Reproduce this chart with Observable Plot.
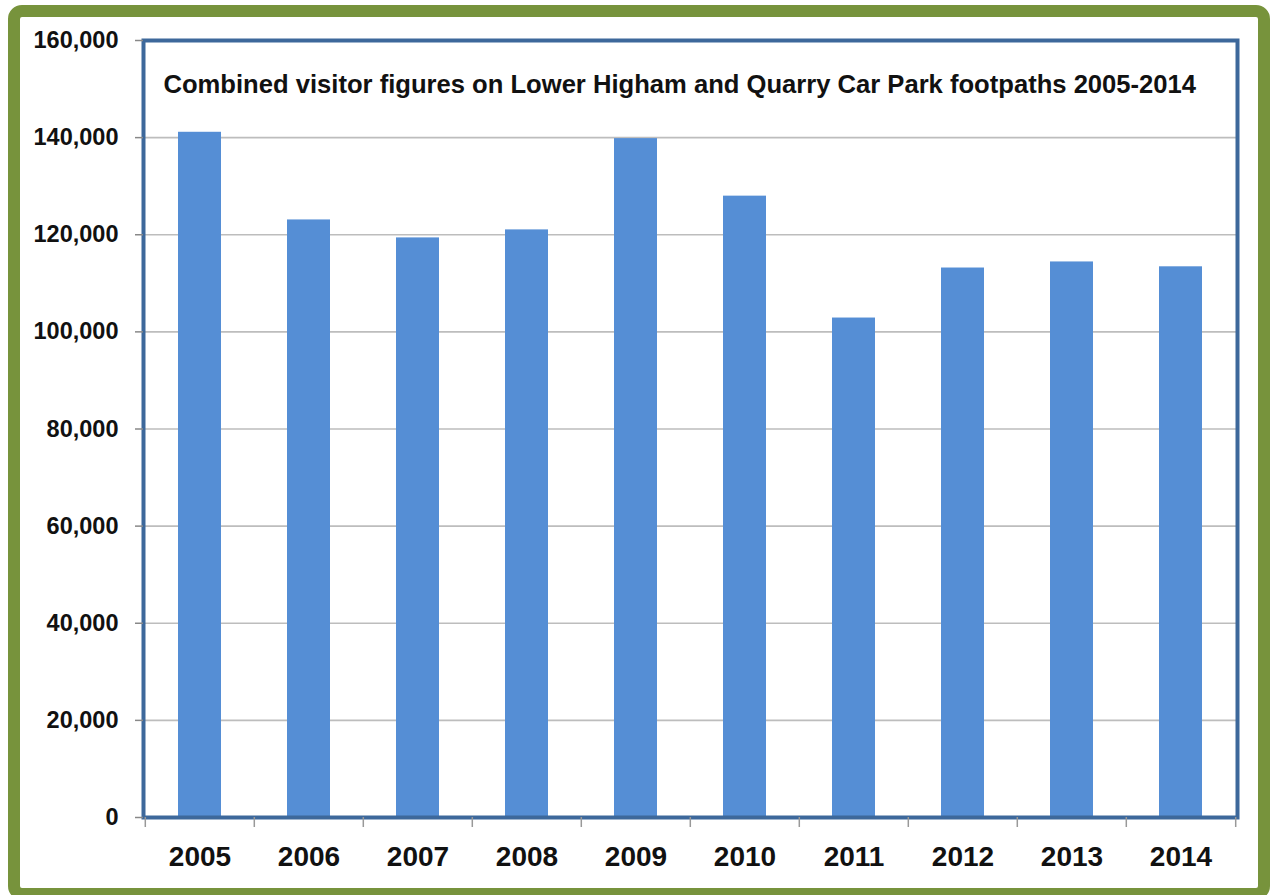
<!DOCTYPE html>
<html>
<head>
<meta charset="utf-8">
<script src="https://cdn.jsdelivr.net/npm/d3@7"></script>
<script src="https://cdn.jsdelivr.net/npm/@observablehq/plot@0.6"></script>
<style>
  html, body { margin: 0; padding: 0; background: #ffffff; }
  #wrap { position: relative; width: 1277px; height: 895px; overflow: hidden; background: #fff; }
  #border { position: absolute; left: 8px; top: 5px; width: 1238px; height: 871px;
            border: 12px solid #77933C; border-radius: 14px; box-sizing: content-box; }
  #chart { position: absolute; left: 0; top: 0; }
</style>
</head>
<body>
<div id="wrap">
  <div id="border"></div>
  <div id="chart"></div>
</div>
<script>
const years = ["2005","2006","2007","2008","2009","2010","2011","2012","2013","2014"];
const visitors = [141100, 123050, 119350, 121000, 139800, 127950, 102850, 113150, 114400, 113400];
const yTicks = [0, 20000, 40000, 60000, 80000, 100000, 120000, 140000, 160000];
const title = "Combined visitor figures on Lower Higham and Quarry Car Park footpaths 2005-2014";

const data = years.map((y, i) => ({year: y, value: visitors[i]}));

const W = 1277, H = 895;
const mL = 143, mR = 40, mT = 40, mB = 78;
const step = (W - mL - mR) / years.length;
const font = "'Liberation Sans', Arial, sans-serif";

const chart = Plot.plot({
  width: W,
  height: H,
  marginLeft: mL,
  marginRight: mR,
  marginTop: mT,
  marginBottom: mB,
  style: {fontFamily: font, color: "#000", background: "transparent", overflow: "visible"},
  x: {domain: years, paddingInner: 0.61, paddingOuter: 0.305, label: null},
  y: {domain: [0, 160000], label: null},
  marks: [
    Plot.gridY(yTicks, {stroke: "#bdbdbd", strokeOpacity: 1, strokeWidth: 1.6}),
    Plot.barY(data, {x: "year", y: "value", fill: "#558ED5"}),
    Plot.frame({stroke: "#3D689B", strokeWidth: 4}),
    Plot.axisY(yTicks, {tickSize: 8, tickPadding: 17, stroke: "#888", strokeWidth: 1.5,
      tickFormat: d3.format(","), fontSize: 23.5, fontWeight: "bold", fill: "#111", label: null}),
    Plot.axisX(years, {tickSize: 10, text: null, dx: -step / 2, stroke: "#999", strokeWidth: 1.5, label: null}),
    Plot.axisX([years[years.length - 1]], {tickSize: 10, text: null, dx: step / 2, stroke: "#999", strokeWidth: 1.5, label: null}),
    Plot.axisX(years, {tickSize: 0, tickPadding: 29, fontSize: 28, fontWeight: "bold", fill: "#111", label: null}),
    Plot.text([title], {frameAnchor: "top-left", dx: 20, dy: 44, textAnchor: "start", lineAnchor: "middle",
      fontSize: 25.6, fontWeight: "bold", fill: "#111"})
  ]
});
document.getElementById("chart").appendChild(chart);
</script>
</body>
</html>
